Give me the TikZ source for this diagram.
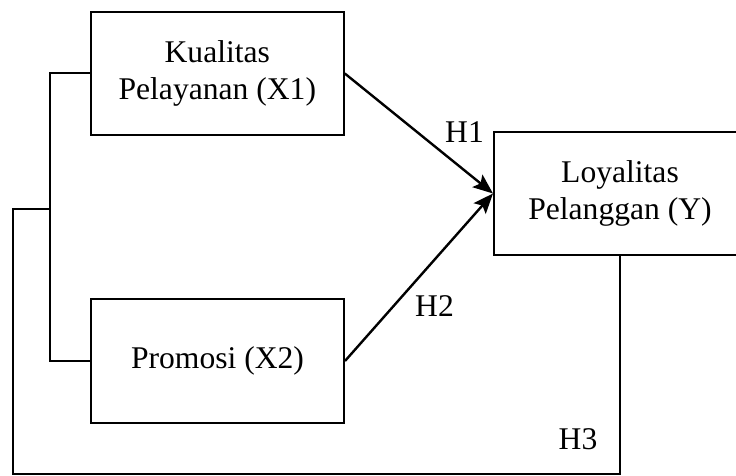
\documentclass[tikz,border=0pt]{standalone}
\usepackage{fontspec}
\setmainfont{Liberation Serif}
\usetikzlibrary{arrows.meta}

\begin{document}
\begin{tikzpicture}[
        x=0.5pt, y=-0.5pt,
        varbox/.style={draw, line width=1pt, align=center, minimum width=#1, minimum height=61.5pt, inner sep=0pt, font=\fontsize{15.8}{18.5}\selectfont},
        varbox/.default=126.5pt,
        hlabel/.style={inner sep=0pt, font=\fontsize{15.8}{18.5}\selectfont},
        arrow/.style={-{Stealth[length=10pt, width=8pt, inset=2pt]}, line width=1.2pt},
        link/.style={line width=1pt}
    ]
        \clip (0,0) rectangle (736,476);

        % Kualitas Pelayanan
        \node[varbox] (x1) at (217.3,73.5) {Kualitas\\Pelayanan (X1)};

        % Promosi
        \node[varbox, minimum height=62pt] (x2) at (217.5,361) {Promosi (X2)};

        % Loyalitas Pelanggan
        \node[varbox=126pt] (y) at (620,193.5) {Loyalitas\\Pelanggan (Y)};

        % Arrows
        \foreach \i in {x1, x2} {
            \draw[arrow] (\i.east) -- (y.west);
        }

        % Hypothesis labels
        \node[hlabel] (h1) at (464.5,132.5) {H1};
        \node[hlabel] (h2) at (434.5,306) {H2};
        \node[hlabel] (h3) at (578,439.5) {H3};

        % Simultaneous path (X1 + X2 to Y)
        \coordinate (join) at (50.7,209);
        \coordinate (corner) at (13,474);
        \draw[link] (x1.west) -- ++(-40,0) |- (x2.west);
        \draw[link] (join) -| (corner) -| (y.south);

    \end{tikzpicture}
\end{document}
